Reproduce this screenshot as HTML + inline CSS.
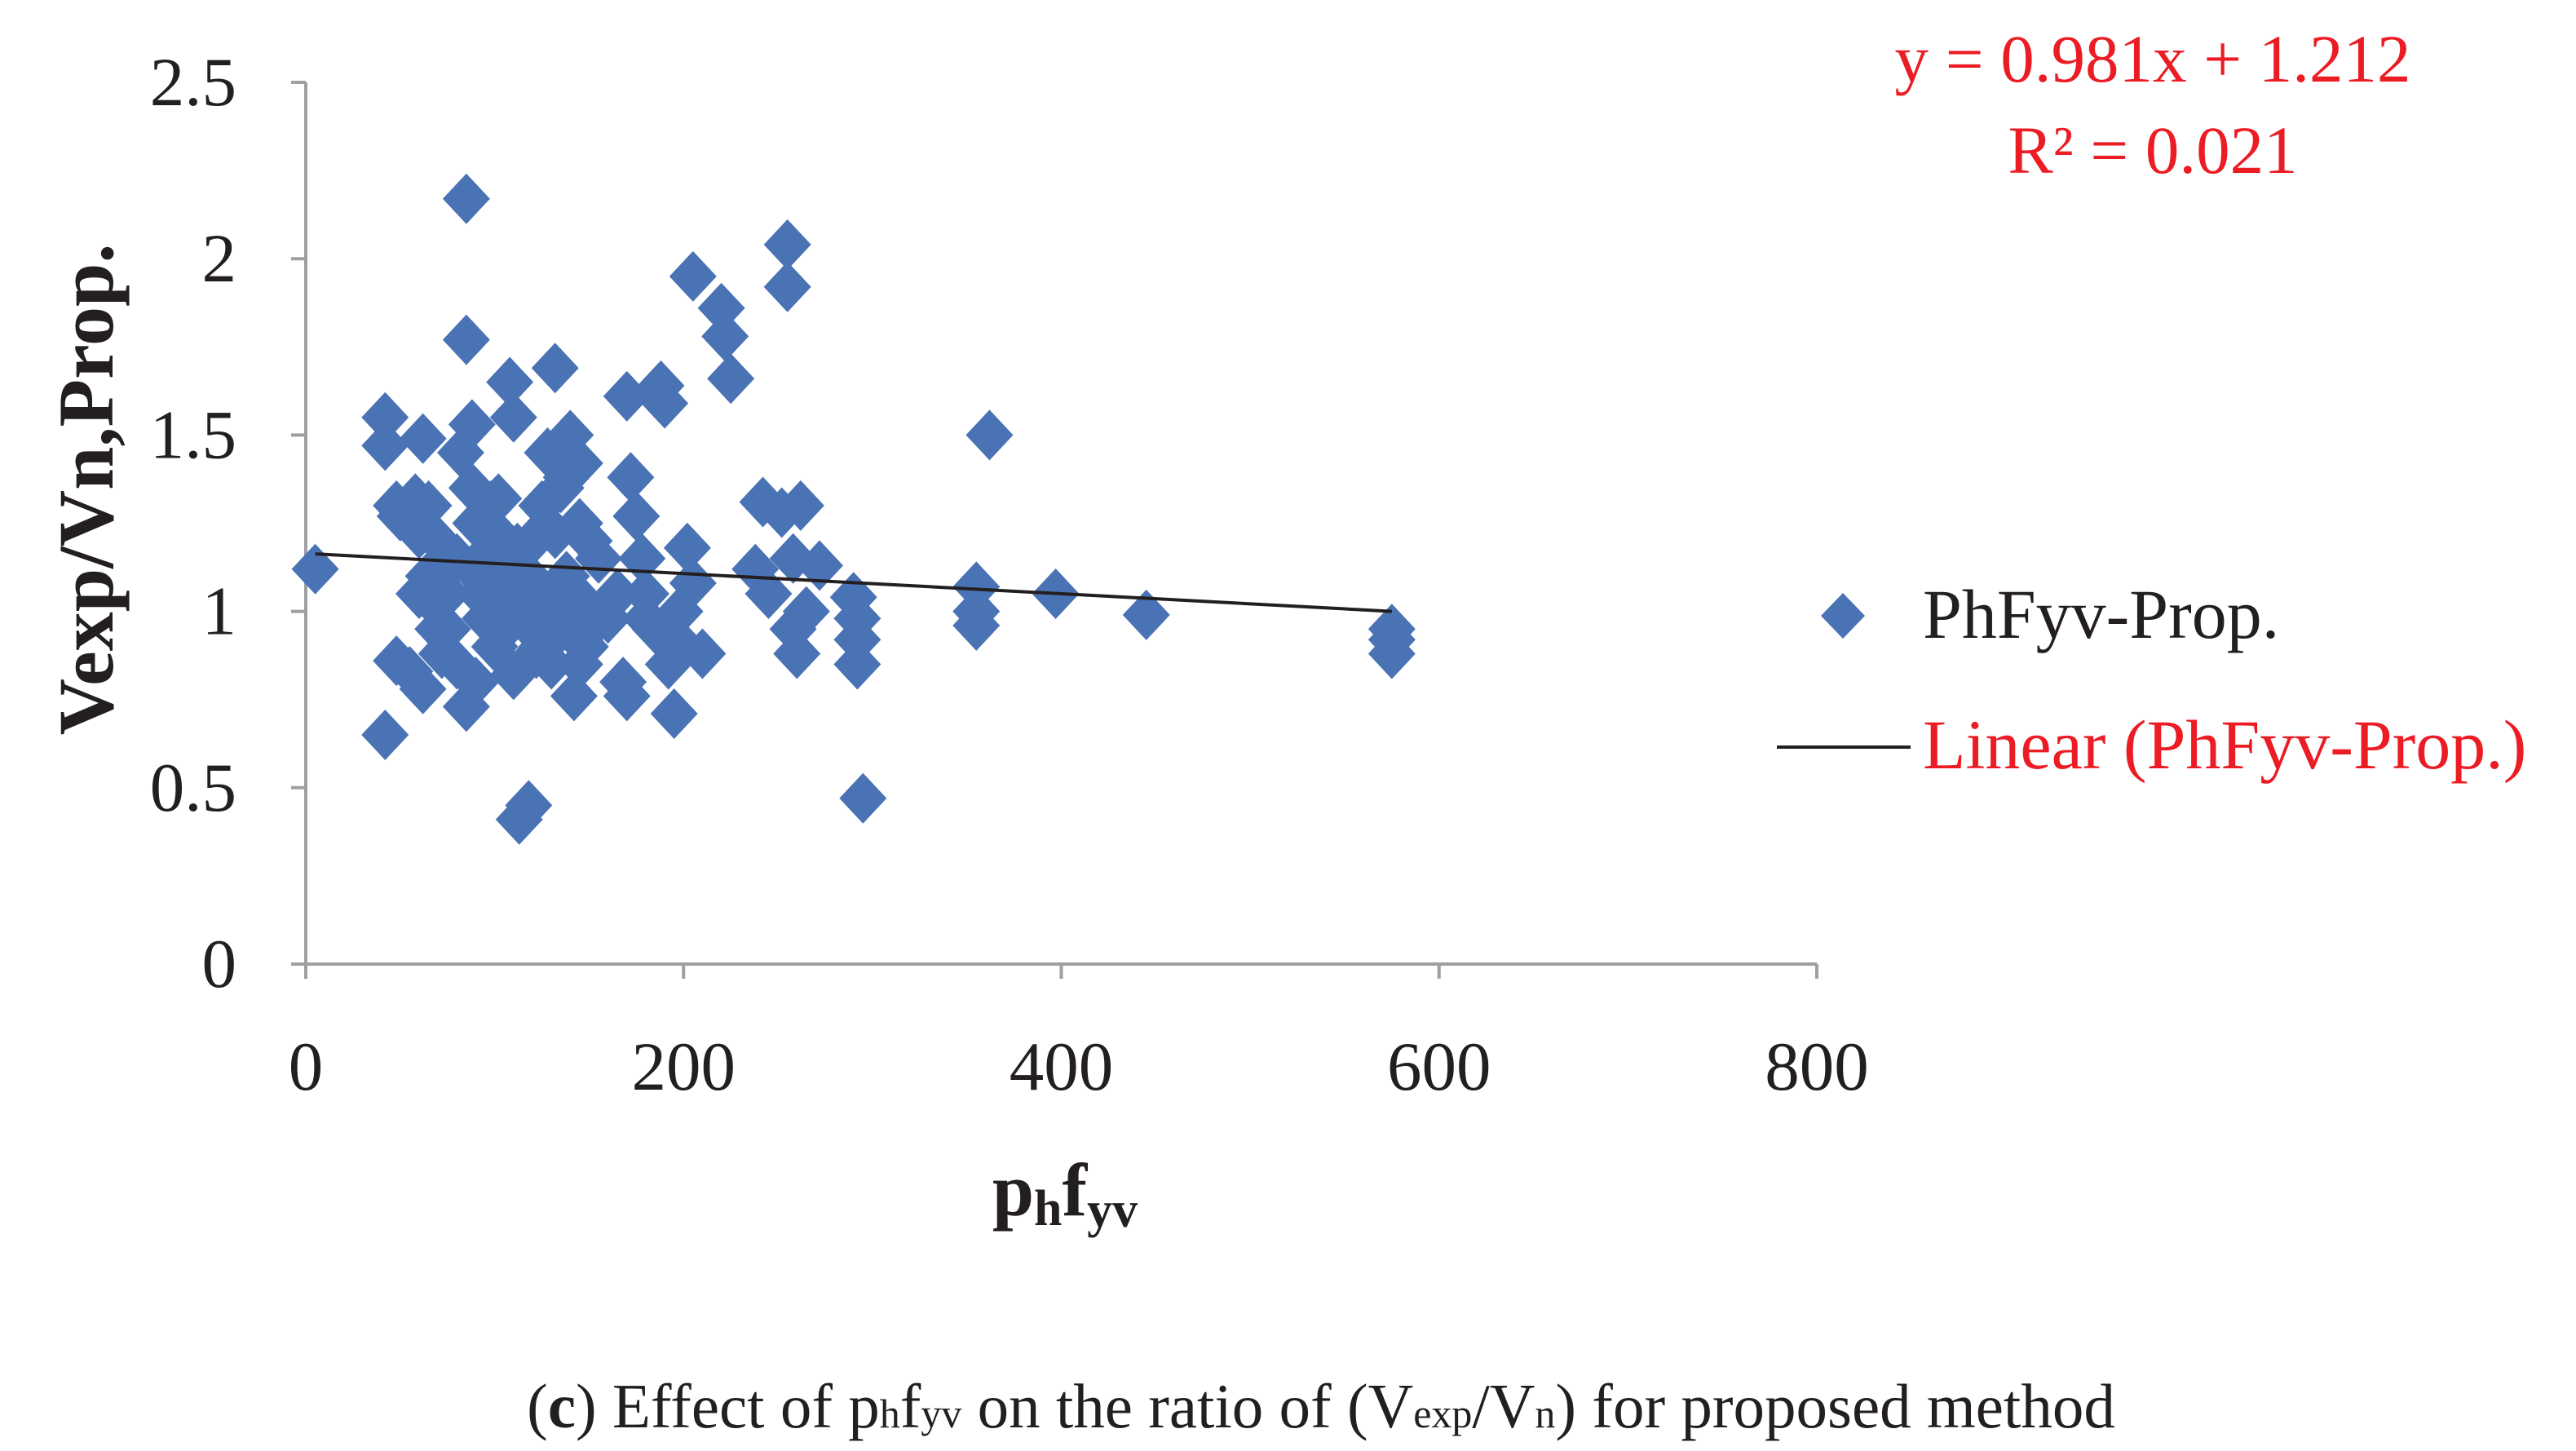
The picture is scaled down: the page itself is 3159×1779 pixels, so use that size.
<!DOCTYPE html>
<html><head><meta charset="utf-8"><style>
html,body{margin:0;padding:0;background:#fff;}
svg{display:block;font-family:"Liberation Serif",serif;}
</style></head><body>
<svg id="chart" width="3159" height="1779" viewBox="0 0 3159 1779" xmlns="http://www.w3.org/2000/svg">
<g id="axes"></g>
<g id="points"></g>
<g id="trend"></g>
<text x="2640" y="100" text-anchor="middle" font-size="83" fill="#ec1c24">y = 0.981x + 1.212</text>
<text x="2640" y="212" text-anchor="middle" font-size="83" fill="#ec1c24">R² = 0.021</text>
<g>
<path d="M2260 727 L2287 755 L2260 783 L2233 755 Z" fill="#4a73b5"/>
<text x="2358" y="782" font-size="86" fill="#231f20">PhFyv-Prop.</text>
<line x1="2179" y1="916" x2="2343" y2="916" stroke="#231f20" stroke-width="4"/>
<text x="2358" y="942" font-size="86" fill="#ec1c24">Linear (PhFyv-Prop.)</text>
</g>
<text transform="translate(138,600) rotate(-90)" text-anchor="middle" font-size="96" font-weight="bold" fill="#231f20">Vexp/Vn,Prop.</text>
<text x="1306" y="1490" text-anchor="middle" font-size="92" font-weight="bold" fill="#231f20">p<tspan font-size="62" dy="12">h</tspan><tspan dy="-12">f</tspan><tspan font-size="62" dy="14">yv</tspan></text>
<text x="1620" y="1750" text-anchor="middle" font-size="77" fill="#231f20">(<tspan font-weight="bold">c</tspan>) Effect of p<tspan font-size="50">h</tspan>f<tspan font-size="50">yv</tspan> on the ratio of (V<tspan font-size="50">exp</tspan>/V<tspan font-size="50">n</tspan>) for proposed method</text>
</svg>
<script>
const xTicks = [0, 200, 400, 600, 800];
const yTicks = [0, 0.5, 1, 1.5, 2, 2.5];
const yTickLabels = ["0", "0.5", "1", "1.5", "2", "2.5"];
const xValues = [5,42,42,42,48,48,50,55,58,60,62,62,65,65,68,70,75,80,82,85,85,88,85,88,90,92,95,98,100,100,105,108,110,110,113,118,115,120,122,125,128,130,132,135,135,138,140,142,145,148,150,150,155,165,168,170,170,172,175,178,180,185,188,190,192,195,200,202,205,205,210,220,222,225,238,242,245,252,255,255,258,258,260,262,265,272,290,292,292,292,295,355,355,355,362,397,445,575,575,575,70,75,80,90,95,100,105,110,118,125,128,130,140,145,150,160,120,112,102,132,138,145,60,72,88,108,125,148,180,198];
const yValues = [1.12,1.55,1.47,0.65,1.3,0.86,1.27,0.83,1.32,1.22,1.49,0.78,1.3,1.1,1.02,1.2,0.95,1.15,1.45,2.17,1.77,1.53,0.73,1.35,1.25,1.05,0.98,1.3,0.9,1.1,0.95,1.65,1.55,0.82,0.41,0.45,1.0,1.2,0.88,1.3,1.45,1.05,1.69,1.35,0.95,1.1,1.5,0.76,1.25,0.9,1.2,1.0,1.15,1.05,0.8,1.61,0.76,1.38,1.27,1.15,1.05,0.95,1.64,1.59,0.85,0.71,0.9,1.18,1.08,1.95,0.88,1.86,1.78,1.66,1.12,1.31,1.05,1.28,2.04,1.92,1.15,0.95,0.88,1.3,1.0,1.13,1.04,0.98,0.92,0.85,0.47,1.07,1.0,0.96,1.5,1.05,0.99,0.95,0.92,0.88,0.95,1.05,0.85,0.8,1.15,1.0,1.2,0.98,1.1,0.92,1.0,0.85,1.0,0.85,0.95,0.98,0.95,1.18,1.32,1.22,1.38,1.42,1.05,0.88,1.12,1.08,0.9,1.02,0.98,1.0];
const trendX = [5, 575];
const trendY = [1.163, 1.0];

const X0 = 375, X1 = 2228, Y0 = 1182, Y1 = 101;
const xs = v => X0 + (v - 0) / 800 * (X1 - X0);
const ys = v => Y0 - (v - 0) / 2.5 * (Y0 - Y1);
const NS = "http://www.w3.org/2000/svg";
const axes = document.getElementById("axes");
function mk(tag, attrs, parent) {
  const e = document.createElementNS(NS, tag);
  for (const k in attrs) e.setAttribute(k, attrs[k]);
  parent.appendChild(e);
  return e;
}
let l = mk("line", {x1: X0, y1: Y1, x2: X0, y2: Y0, stroke: "#9d9fa2", "stroke-width": 4}, axes);


l = mk("line", {x1: X0, y1: Y0, x2: X1, y2: Y0, stroke: "#9d9fa2", "stroke-width": 4}, axes);


yTicks.forEach((v, i) => {
  const t = mk("line", {x1: X0 - 18, y1: ys(v), x2: X0, y2: ys(v), stroke: "#9d9fa2", "stroke-width": 4}, axes);
  
  
  const tx = mk("text", {x: 290, y: ys(v) + 28, "text-anchor": "end", "font-size": 85, fill: "#231f20"}, axes);
  tx.textContent = yTickLabels[i];
  
  
});
xTicks.forEach(v => {
  const t = mk("line", {x1: xs(v), y1: Y0, x2: xs(v), y2: Y0 + 18, stroke: "#9d9fa2", "stroke-width": 4}, axes);
  
  
  const tx = mk("text", {x: xs(v), y: 1336, "text-anchor": "middle", "font-size": 85, fill: "#231f20"}, axes);
  tx.textContent = String(v);
  
  
});
const pts = document.getElementById("points");
xValues.forEach((xv, i) => {
  const cx = xs(xv), cy = ys(yValues[i]);
  const p = mk("path", {d: `M${cx} ${cy-31} L${cx+29} ${cy} L${cx} ${cy+31} L${cx-29} ${cy} Z`, fill: "#4a73b5"}, pts);
  
  
});
const tr = document.getElementById("trend");
const tl = mk("line", {x1: xs(trendX[0]), y1: ys(trendY[0]), x2: xs(trendX[1]), y2: ys(trendY[1]), stroke: "#231f20", "stroke-width": 4}, tr);


</script>
</body></html>
